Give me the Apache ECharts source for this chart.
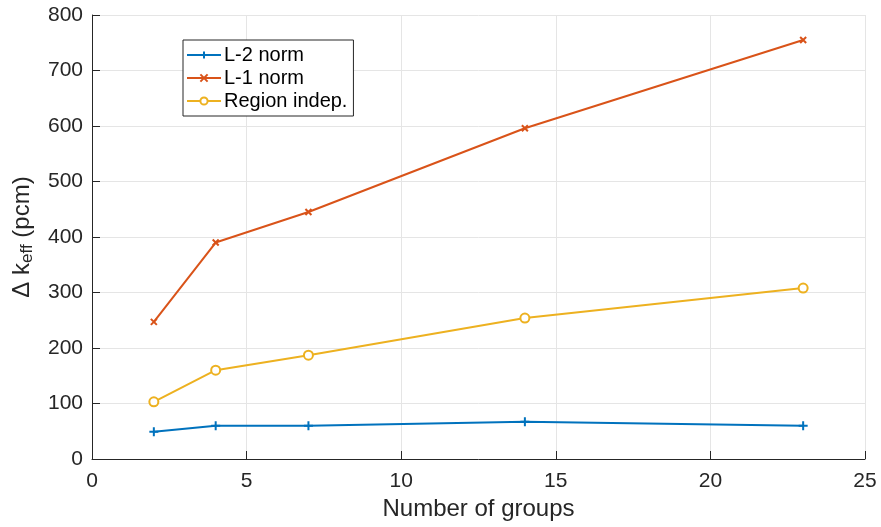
<!DOCTYPE html>
<html>
<head>
<meta charset="utf-8">
<script src="https://cdn.jsdelivr.net/npm/echarts@6/dist/echarts.min.js"></script>
<style>html,body{margin:0;padding:0;background:#fff}#c{width:881px;height:527px}</style>
</head>
<body>
<div id="c"></div>
<script>
const groups = [2, 4, 7, 14, 23];
const l2norm = [49, 60, 60, 67, 60];
const l1norm = [247, 390, 445, 596, 755];
const regionIndep = [103, 160, 187, 254, 308];
const seriesNames = ['L-2 norm', 'L-1 norm', 'Region indep.'];
const colors = ['#0072BD', '#D95319', '#EDB120'];

const font = 'Liberation Sans, Arial, Helvetica, sans-serif';
const chart = echarts.init(document.getElementById('c'), null, {renderer: 'canvas'});
function pts(v) { return groups.map((g, i) => [g, v[i]]); }
const crossPath = 'path://M0,5L10,5M5,0L5,10';
const xPath = 'path://M0,0L10,10M10,0L0,10';
chart.setOption({
  animation: false,
  backgroundColor: '#fff',
  color: colors,
  grid: {left: 92, right: 16, top: 15, bottom: 68, containLabel: false, outerBoundsMode: 'none'},
  legend: {
    left: 183, top: 40, orient: 'vertical',
    backgroundColor: '#fff', borderColor: '#262626', borderWidth: 1,
    padding: [5, 6, 5, 3], itemGap: 3, itemWidth: 34, itemHeight: 9,
    textStyle: {fontFamily: font, fontSize: 20, color: '#000', lineHeight: 20, padding: [0, 0, 0, -2]},
    data: seriesNames
  },
  xAxis: {
    type: 'value', min: 0, max: 25, interval: 5,
    name: 'Number of groups', nameLocation: 'middle', nameGap: 38,
    nameTextStyle: {fontFamily: font, fontSize: 24, color: '#262626'},
    axisLine: {show: true, onZero: false, lineStyle: {color: '#262626', width: 1}},
    axisTick: {show: true, inside: true, length: 8, lineStyle: {color: '#262626'}},
    axisLabel: {fontFamily: font, fontSize: 21, color: '#262626', margin: 12},
    splitLine: {show: true, lineStyle: {color: '#e5e5e5', width: 1}}
  },
  yAxis: {
    type: 'value', min: 0, max: 800, interval: 100,
    name: '{a|Δ k}{b|eff}{a| (pcm)}', nameLocation: 'middle', nameGap: 56, nameRotate: 90,
    nameTextStyle: {
      fontFamily: font, fontSize: 24, color: '#262626',
      rich: {
        a: {fontFamily: font, fontSize: 24, color: '#262626', lineHeight: 28},
        b: {fontFamily: font, fontSize: 17, color: '#262626', lineHeight: 17, padding: [22, 0, 0, 0], verticalAlign: 'bottom'}
      }
    },
    axisLine: {show: true, lineStyle: {color: '#262626', width: 1}},
    axisTick: {show: true, inside: true, length: 8, lineStyle: {color: '#262626'}},
    axisLabel: {fontFamily: font, fontSize: 21, color: '#262626', margin: 9},
    splitLine: {show: true, lineStyle: {color: '#e5e5e5', width: 1}}
  },
  series: [
    {name: seriesNames[0], type: 'line', data: pts(l2norm), symbol: crossPath, symbolSize: 9,
      lineStyle: {width: 2, color: colors[0]}, itemStyle: {color: colors[0], borderColor: colors[0], borderWidth: 2}},
    {name: seriesNames[1], type: 'line', data: pts(l1norm), symbol: xPath, symbolSize: 6,
      lineStyle: {width: 2, color: colors[1]}, itemStyle: {color: colors[1], borderColor: colors[1], borderWidth: 2}},
    {name: seriesNames[2], type: 'line', data: pts(regionIndep), symbol: 'circle', symbolSize: 9,
      lineStyle: {width: 2, color: colors[2]}, itemStyle: {color: '#fff', borderColor: colors[2], borderWidth: 2}}
  ]
});
</script>
</body>
</html>
